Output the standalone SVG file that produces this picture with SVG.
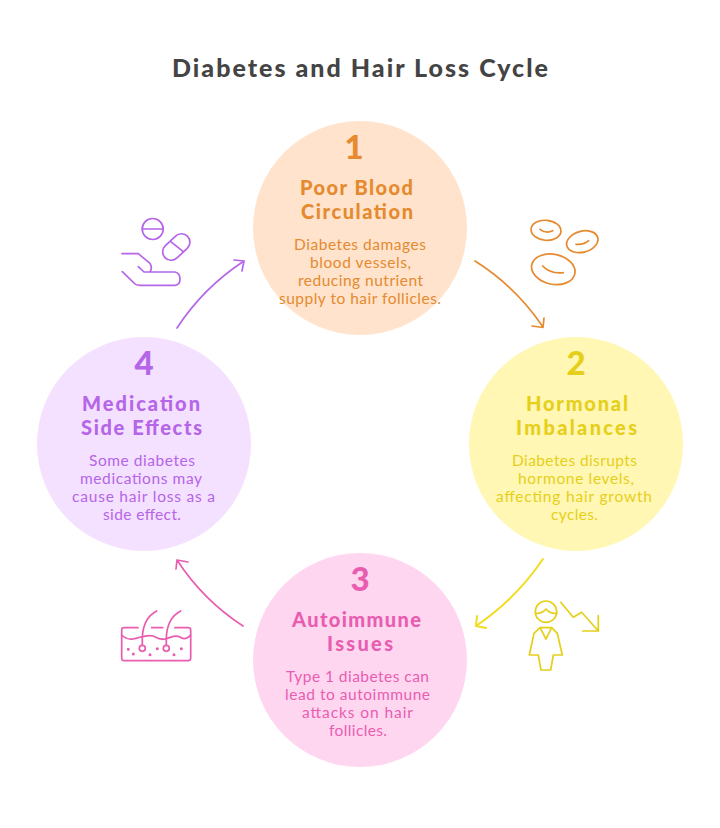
<svg xmlns="http://www.w3.org/2000/svg" width="720" height="828" viewBox="0 0 720 828">
<style>
text{font-family:"Lato","Open Sans",sans-serif;text-anchor:middle}
.title{font-size:25px;font-weight:900;fill:#444444}
.num{font-size:33px;font-weight:900}
.head{font-size:20px;font-weight:900}
.body{font-size:15.5px}
.ic,.ar{fill:none;stroke-width:1.7;stroke-linecap:round;stroke-linejoin:round}
.o{fill:#E58A2E;stroke:#E58A2E}.y{fill:#E6CF1A;stroke:#E6CF1A}.p{fill:#E85DB0;stroke:#E85DB0}.v{fill:#B565E8;stroke:#B565E8}
.ybright{stroke:#F2DC1F;stroke-width:2}
text.o,text.y,text.p,text.v{stroke:none}
.ic.o,.ic.y,.ic.p,.ic.v,.ar.o,.ar.y,.ar.p,.ar.v{fill:none}
</style>
<rect width="720" height="828" fill="#ffffff"/>
<text id="title" class="title" x="360" y="77" textLength="376" lengthAdjust="spacing">Diabetes and Hair Loss Cycle</text>
<g id="connectors">
<path class="ar o" d="M475,261 Q515,286 543,327 M532,326 L543,327.5 L544,318"/>
<path class="ar y ybright" d="M543,559 Q515,600 476,626 M477,616 L476,626 L486,628"/>
<path class="ar p" d="M243,626 Q203,600 177,560 M176,569 L177,560 L188,562"/>
<path class="ar v" d="M177,328 Q203,288 244,261 M234,260 L244,261 L242,271"/>
</g>
<g id="node-1">
<circle cx="360" cy="228" r="107" fill="#FFE3CC"/>
<text class="num o" x="354" y="159">1</text>
<text class="head o" x="356.500" y="195" textLength="113" lengthAdjust="spacing">Poor Blood</text>
<text class="head o" x="357" y="219" textLength="112" lengthAdjust="spacing">Circulation</text>
<text class="body o" x="360" y="250" textLength="132" lengthAdjust="spacing">Diabetes damages</text>
<text class="body o" x="360.500" y="268" textLength="101" lengthAdjust="spacing">blood vessels,</text>
<text class="body o" x="360.500" y="286" textLength="125" lengthAdjust="spacing">reducing nutrient</text>
<text class="body o" x="360" y="304" textLength="162" lengthAdjust="spacing">supply to hair follicles.</text>
</g>
<g id="node-2">
<circle cx="576" cy="444" r="107" fill="#FFF7B3"/>
<text class="num y" x="576" y="375">2</text>
<text class="head y" x="577" y="411" textLength="102" lengthAdjust="spacing">Hormonal</text>
<text class="head y" x="576.500" y="435" textLength="121" lengthAdjust="spacing">Imbalances</text>
<text class="body y" x="574.500" y="466" textLength="125" lengthAdjust="spacing">Diabetes disrupts</text>
<text class="body y" x="576" y="484" textLength="116" lengthAdjust="spacing">hormone levels,</text>
<text class="body y" x="574" y="502" textLength="156" lengthAdjust="spacing">affecting hair growth</text>
<text class="body y" x="574.500" y="520" textLength="47" lengthAdjust="spacing">cycles.</text>
</g>
<g id="node-3">
<circle cx="360" cy="660" r="107" fill="#FFD6F0"/>
<text class="num p" x="360" y="591">3</text>
<text class="head p" x="356.500" y="627" textLength="129" lengthAdjust="spacing">Autoimmune</text>
<text class="head p" x="360" y="651" textLength="66" lengthAdjust="spacing">Issues</text>
<text class="body p" x="357.500" y="682" textLength="143" lengthAdjust="spacing">Type 1 diabetes can</text>
<text class="body p" x="357.500" y="700" textLength="145" lengthAdjust="spacing">lead to autoimmune</text>
<text class="body p" x="357.500" y="718" textLength="111" lengthAdjust="spacing">attacks on hair</text>
<text class="body p" x="358" y="736" textLength="58" lengthAdjust="spacing">follicles.</text>
</g>
<g id="node-4">
<circle cx="144" cy="444" r="107" fill="#F4E0FF"/>
<text class="num v" x="144" y="375">4</text>
<text class="head v" x="141" y="411" textLength="118" lengthAdjust="spacing">Medication</text>
<text class="head v" x="141.500" y="435" textLength="121" lengthAdjust="spacing">Side Effects</text>
<text class="body v" x="142" y="466" textLength="106" lengthAdjust="spacing">Some diabetes</text>
<text class="body v" x="141" y="484" textLength="122" lengthAdjust="spacing">medications may</text>
<text class="body v" x="143.500" y="502" textLength="143" lengthAdjust="spacing">cause hair loss as a</text>
<text class="body v" x="142" y="520" textLength="78" lengthAdjust="spacing">side effect.</text>
</g>
<g id="icon-cells" class="ic o">
<ellipse cx="546" cy="230.300" rx="15" ry="10" transform="rotate(5 546 230.300)"/>
<ellipse cx="582.300" cy="241.700" rx="16" ry="10.500" transform="rotate(-15 582.300 241.700)"/>
<ellipse cx="553.300" cy="269.300" rx="22" ry="15" transform="rotate(12 553.300 269.300)"/>
<path d="M540,229.300 Q546,234 552.700,230.700 M576,244.300 Q584,245 588.700,240.700 M542.700,266 Q550,274 563.300,272.700"/>
</g>
<g id="icon-person" class="ic y">
<circle cx="546" cy="611.700" r="10.700"/>
<path d="M535.700,613.300 Q541.700,614 546,609 Q550,614 556.700,613.300"/>
<path d="M540,627.700 L534,633.300 L529.300,655 H538.300 L541,670 H550.700 L553.300,655 H562.300 L557.300,633.300 L551.700,627.700 Z M540,627.700 L546,639 L551.700,627.700"/>
<path d="M560.700,602.300 L573.300,617.300 L581.700,612.300 L598.300,631 M598.300,615.700 V631 H582.700"/>
</g>
<g id="icon-skin" class="ic p">
<path d="M138,627.700 H124 Q121.700,627.700 121.700,630 V658 Q121.700,660.700 124,660.700 H188 Q190.700,660.700 190.700,658 V630 Q190.700,627.700 188,627.700 H175 M151.700,627.700 H162.700"/>
<path d="M121.700,635 Q127,640 133,639 C140,638 146,634 153,636 C158,638 160,640 165,639 C171,638 174,634 180,637 C184,640 187,639 190.700,635"/>
<circle cx="142.300" cy="648.300" r="3"/><circle cx="166.300" cy="648.300" r="3"/>
<path d="M142.300,645.300 V638 Q143,618 156.700,611 M166.300,645.300 V638 Q167,618 180.700,611"/>
<path stroke-width="3" d="M128.300,649.300h.01 M133.300,654h.01 M150,654.700h.01 M157.300,648.700h.01 M174,654.700h.01 M181.300,648.700h.01"/>
</g>
<g id="icon-pills" class="ic v">
<circle cx="152.700" cy="229" r="10.500"/>
<path d="M142.300,229 H163"/>
<rect x="160.800" y="238.500" width="31" height="17" rx="8.500" transform="rotate(-43 176.300 247)"/>
<path d="M170.700,241.700 L183.300,251.700"/>
<path d="M122,253.700 H138.300 L150,263.300 Q152.700,268 150,271.700 M138.300,266.700 L144,272 H175 Q180,273 180,279 Q180,285 175,285.300 H140 Q136,285 135,284 L122.300,271.700"/>
</g>
</svg>
